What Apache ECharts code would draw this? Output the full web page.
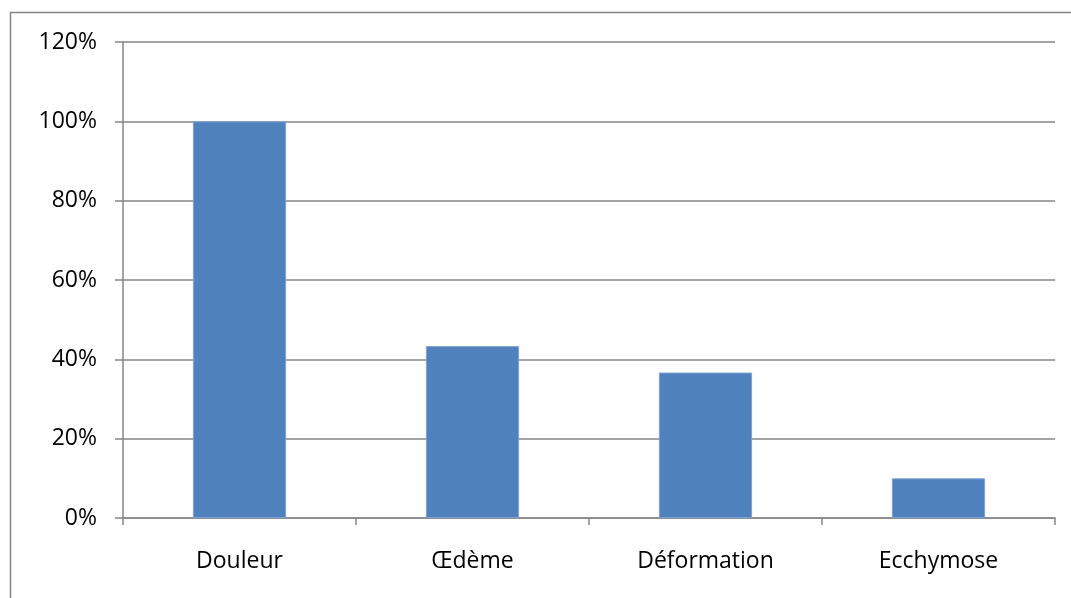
<!DOCTYPE html>
<html>
<head>
<meta charset="utf-8">
<script src="https://cdn.jsdelivr.net/npm/echarts@6/dist/echarts.min.js"></script>
<style>
  html, body { margin: 0; padding: 0; background: #fff; }
  #chart { width: 1071px; height: 598px; }
</style>
</head>
<body>
<div id="chart"></div>
<script>
// Symptom categories and their share of patients
const categories = ['Douleur', 'Œdème', 'Déformation', 'Ecchymose'];
const shares = [1.0, 0.4333, 0.3667, 0.10];
const yTicks = { min: 0, max: 1.2, step: 0.2 };

const chart = echarts.init(document.getElementById('chart'), null, { renderer: 'canvas' });
const axisGrey = '#868686';
const labelFont = { color: '#000', fontFamily: 'Open Sans', fontSize: 23 };

chart.setOption({
  animation: false,
  backgroundColor: '#fff',
  graphic: [{
    type: 'rect',
    shape: { x: 10.5, y: 12.5, width: 1200, height: 800 },
    style: { fill: 'none', stroke: axisGrey, lineWidth: 1.5 },
    silent: true
  }],
  grid: { left: 123, right: 16, top: 42, bottom: 80, containLabel: false },
  xAxis: {
    type: 'category',
    data: categories,
    axisLine: { show: true, lineStyle: { color: axisGrey, width: 1.5 } },
    axisTick: { show: true, length: 7, alignWithLabel: false, lineStyle: { color: axisGrey, width: 1.5 } },
    axisLabel: Object.assign({ margin: 32 }, labelFont),
    splitLine: { show: false }
  },
  yAxis: {
    type: 'value',
    min: yTicks.min,
    max: yTicks.max,
    interval: yTicks.step,
    axisLine: { show: true, lineStyle: { color: axisGrey, width: 1.5 } },
    axisTick: { show: true, length: 8, lineStyle: { color: axisGrey, width: 1.5 } },
    axisLabel: Object.assign({
      margin: 26,
      formatter: v => Math.round(v * 100) + '%'
    }, labelFont),
    splitLine: { show: true, lineStyle: { color: axisGrey, width: 1.5 } }
  },
  series: [{
    type: 'bar',
    data: shares,
    barWidth: '40%',
    itemStyle: { color: '#4F81BD', borderColor: '#7EA2D3', borderWidth: 1 }
  }]
});
</script>
</body>
</html>
